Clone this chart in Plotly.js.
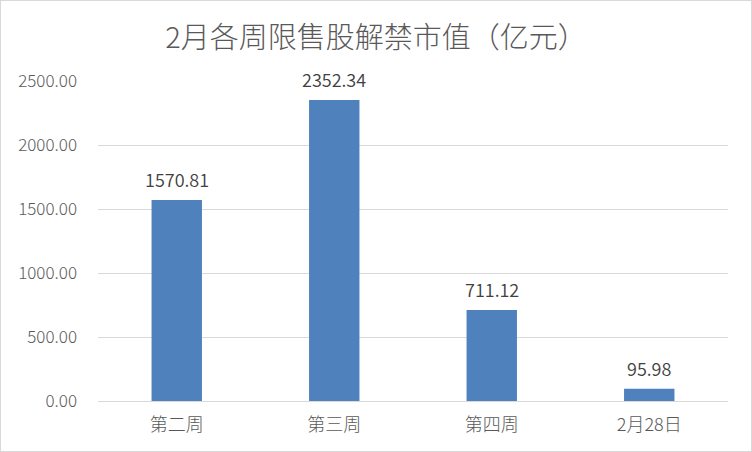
<!DOCTYPE html>
<html>
<head>
<meta charset="utf-8">
<script src="https://cdn.plot.ly/plotly-3.0.1.min.js"></script>
<style>
html,body{margin:0;padding:0;background:#fff;}
#wrap{position:relative;width:752px;height:452px;}
#chart{width:752px;height:452px;}
#border{position:absolute;left:0;top:0;width:750px;height:450px;border:1px solid #d9d9d9;pointer-events:none;}
</style>
</head>
<body>
<div id="wrap"><div id="chart"></div><div id="border"></div></div>
<script>
const categories = ["第二周", "第三周", "第四周", "2月28日"];
const values = [1570.81, 2352.34, 711.12, 95.98];
const yTicks = [0, 500, 1000, 1500, 2000, 2500];
const titleText = "2月各周限售股解禁市值（亿元）";

const font = '"Noto Sans CJK SC", "Noto Sans", sans-serif';

const trace = {
  type: 'bar',
  x: categories,
  y: values,
  marker: {color: '#4f81bd'},
  hoverinfo: 'none'
};

const annotations = categories.map((c, i) => ({
  x: c,
  y: values[i],
  xref: 'x',
  yref: 'y',
  text: values[i].toFixed(2),
  showarrow: false,
  yanchor: 'bottom',
  yshift: 6,
  font: {family: font, size: 18, color: '#404040', weight: 350}
}));

const layout = {
  width: 752,
  height: 452,
  margin: {l: 98, r: 24, t: 81, b: 51},
  paper_bgcolor: '#fff',
  plot_bgcolor: '#fff',
  bargap: 0.68,
  showlegend: false,
  annotations: annotations,
  title: {
    text: titleText,
    font: {family: font, size: 29, color: '#595959', weight: 300},
    x: 0.5, xref: 'container', xanchor: 'center',
    y: 1 - 38/452, yref: 'container', yanchor: 'middle'
  },
  xaxis: {
    type: 'category',
    showgrid: false,
    showline: true,
    linecolor: '#d9d9d9',
    linewidth: 1,
    ticks: '',
    tickfont: {family: font, size: 18, color: '#595959', weight: 300},
    ticklabelstandoff: 7
  },
  yaxis: {
    range: [0, 2500],
    tickvals: yTicks,
    ticktext: yTicks.map(v => v.toFixed(2)),
    showgrid: true,
    gridcolor: '#d9d9d9',
    gridwidth: 1,
    zeroline: false,
    showline: false,
    ticks: '',
    tickfont: {family: font, size: 17, color: '#595959', weight: 300},
    ticklabelstandoff: 20
  }
};

Plotly.newPlot('chart', [trace], layout, {displayModeBar: false, staticPlot: true});
</script>
</body>
</html>
